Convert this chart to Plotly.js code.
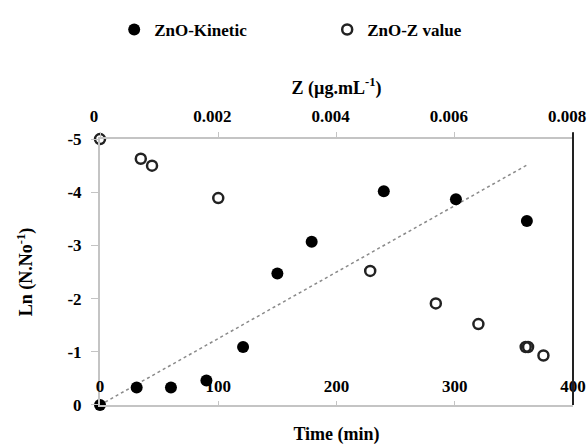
<!DOCTYPE html>
<html>
<head>
<meta charset="utf-8">
<script src="https://cdn.plot.ly/plotly-3.0.1.min.js"></script>
<style>html,body{margin:0;padding:0;background:#fff;}#chart{width:587px;height:445px;}</style>
</head>
<body>
<div id="chart"></div>
<script>
// Kinetic series: time (min) vs Ln(N/No)
var timeMin = [0, 31, 60, 90, 121, 150, 179, 240, 301, 361];
var lnKinetic = [0, -0.33, -0.33, -0.46, -1.09, -2.47, -3.07, -4.02, -3.87, -3.46];
// Z value series: Z (ug/mL) vs Ln(N/No)
var zConc = [0, 0.00069, 0.00088, 0.0020, 0.00457, 0.00568, 0.0064, 0.00720, 0.00724, 0.0075];
var lnZ = [-5, -4.63, -4.5, -3.89, -2.52, -1.91, -1.52, -1.09, -1.09, -0.93];
// Axis ticks
var timeTicks = [0, 100, 200, 300, 400];
var timeTickText = ['0', '100', '200', '300', '400'];
var zTicks = [0, 0.002, 0.004, 0.006, 0.008];
var zTickText = ['0', '0.002', '0.004', '0.006', '0.008'];
var lnTicks = [0, -1, -2, -3, -4, -5];
var lnTickText = ['0', '-1', '-2', '-3', '-4', '-5'];

// Linear trendline through origin for the kinetic series (least squares)
var sxy = 0, sxx = 0;
for (var i = 0; i < timeMin.length; i++) { sxy += timeMin[i] * lnKinetic[i]; sxx += timeMin[i] * timeMin[i]; }
var slope = sxy / sxx;
var tMax = Math.max.apply(null, timeMin);
var trendX = [0, tMax];
var trendY = trendX.map(function (t) { return slope * t; });

var fontFam = 'Liberation Serif';
var axisCol = '#c4c4c4';
function f(sz) { return {family: fontFam, size: sz, color: '#000', weight: 'bold'}; }

var traces = [
  {x: trendX, y: trendY, mode: 'lines', xaxis: 'x', yaxis: 'y', showlegend: false, hoverinfo: 'skip',
   line: {color: '#8a8a8a', width: 1.5, dash: 'dot'}},
  {x: timeMin, y: lnKinetic, mode: 'markers', name: 'ZnO-Kinetic', xaxis: 'x', yaxis: 'y', cliponaxis: false,
   marker: {symbol: 'circle', size: 12, color: '#000'}},
  {x: zConc, y: lnZ, mode: 'markers', name: 'ZnO-Z value', xaxis: 'x2', yaxis: 'y', cliponaxis: false,
   marker: {symbol: 'circle-open', size: 10, color: '#222', line: {width: 2.5, color: '#222'}}}
];

var layout = {
  width: 587, height: 445,
  margin: {l: 100, r: 14, t: 134, b: 40},
  paper_bgcolor: '#fff', plot_bgcolor: '#fff',
  font: f(17),
  showlegend: true,
  legend: {orientation: 'h', x: 0.03, y: 1.41, xanchor: 'left', yanchor: 'middle',
           font: f(17), itemwidth: 30, entrywidth: 168, entrywidthmode: 'pixels', bgcolor: 'rgba(0,0,0,0)'},
  xaxis: {range: [-0.001, 400.001], tickvals: timeTicks, ticktext: timeTickText,
          ticklabelposition: 'inside', ticklabeloverflow: 'allow', ticks: 'inside', ticklen: 4, tickcolor: axisCol,
          ticklabelstandoff: 6,
          showline: true, linecolor: axisCol, linewidth: 2, showgrid: false, zeroline: false,
          tickfont: f(17),
          title: {text: 'Time (min)', standoff: 33, font: f(18)}},
  xaxis2: {range: [-0.00000001, 0.00800001], overlaying: 'x', side: 'top', anchor: 'y',
           tickvals: zTicks, ticktext: zTickText, ticks: 'outside', ticklen: 5, tickcolor: axisCol,
           ticklabelstandoff: 3, ticklabelshift: -6, ticklabeloverflow: 'allow',
           showline: true, linecolor: axisCol, linewidth: 2, showgrid: false, zeroline: false,
           tickfont: f(17),
           title: {text: 'Z (\u00b5g.mL<sup>-1</sup>)', standoff: 8, font: f(18)}},
  yaxis: {range: [0.001, -5.001], tickvals: lnTicks, ticktext: lnTickText, ticks: 'outside', ticklen: 7, tickcolor: axisCol,
          ticklabelstandoff: 6, ticklabeloverflow: 'allow',
          showline: true, linecolor: axisCol, linewidth: 2, showgrid: false, zeroline: false,
          tickfont: f(17),
          title: {text: 'Ln (N.No<sup>-1</sup>)', standoff: 30, font: f(18)}},
  shapes: [{type: 'line', xref: 'paper', yref: 'paper', x0: 1, x1: 1, y0: 0, y1: 1.025,
            line: {color: '#222', width: 2}}]
};

Plotly.newPlot('chart', traces, layout, {displayModeBar: false, staticPlot: true});
</script>
</body>
</html>
